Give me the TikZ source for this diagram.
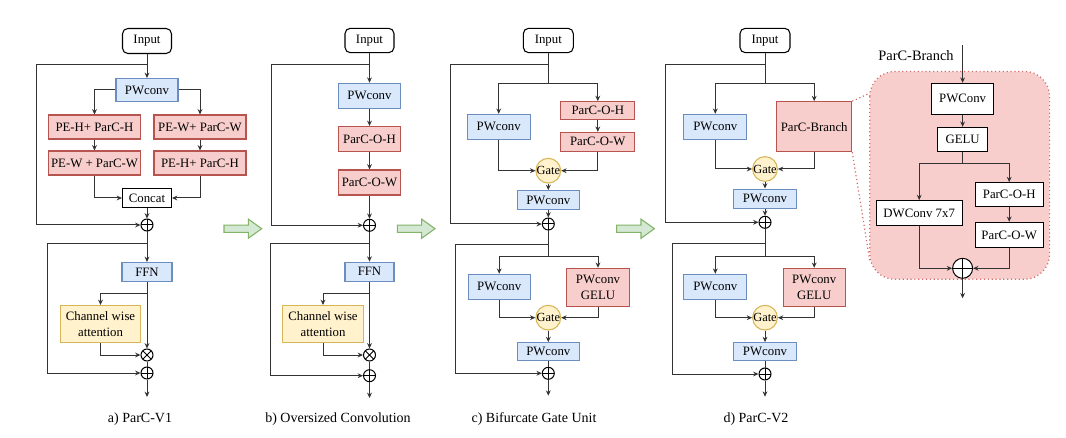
\documentclass[tikz,border=0pt]{standalone}
\usepackage{fontspec}
\setmainfont{Liberation Serif}
\usetikzlibrary{arrows.meta}
\definecolor{bfill}{HTML}{DAE8FC}
\definecolor{bdraw}{HTML}{6C8EBF}
\definecolor{rfill}{HTML}{F8CECC}
\definecolor{rdraw}{HTML}{B85450}
\definecolor{yfill}{HTML}{FFF2CC}
\definecolor{ydraw}{HTML}{D6B656}
\definecolor{gfill}{HTML}{D5E8D4}
\definecolor{gdraw}{HTML}{82B366}
\definecolor{lncol}{HTML}{333333}
\definecolor{dotcol}{HTML}{D46A6A}
\begin{document}
\begin{tikzpicture}[x=0.75pt,y=-0.75pt,
  boxbase/.style={draw, line width=0.8pt, inner sep=1pt, align=center, font=\fontsize{9.6}{11.8}\selectfont},
  bx/.style 2 args={minimum width=#1*0.75pt, minimum height=#2*0.75pt},
  bluebox/.style={boxbase, fill=bfill, draw=bdraw},
  redbox/.style={boxbase, fill=rfill, draw=rdraw},
  yelbox/.style={boxbase, fill=yfill, draw=ydraw},
  whitebox/.style={boxbase, fill=white, draw=black},
  inbox/.style={whitebox, rounded corners=4pt},
  gatenode/.style={circle, fill=yfill, draw=ydraw, line width=0.8pt, inner sep=0pt, minimum size=17pt, font=\fontsize{9.3}{10}\selectfont},
  opl/.style={circle, draw=black, fill=white, line width=0.75pt, inner sep=0pt, minimum size=#1,
     path picture={\draw[line width=0.75pt] (path picture bounding box.north) -- (path picture bounding box.south)
        (path picture bounding box.west) -- (path picture bounding box.east);}},
  opl/.default=9pt,
  otm/.style={circle, draw=black, fill=white, line width=0.75pt, inner sep=0pt, minimum size=9pt,
     path picture={\draw[line width=0.75pt] (path picture bounding box.north east) -- (path picture bounding box.south west)
        (path picture bounding box.north west) -- (path picture bounding box.south east);}},
  conn/.style={draw=lncol, line width=0.75pt},
  arrconn/.style={conn, -{Stealth[length=4pt,width=3.6pt]}},
  dotline/.style={draw=dotcol, line width=0.9pt, dotted},
  captext/.style={font=\fontsize{10.5}{12}\selectfont},
  garr/.pic={\draw[fill=gfill, draw=gdraw, line width=0.8pt] (0,-3.6) -- (24.3,-3.6) -- (24.3,-9.6) -- (37.7,0) -- (24.3,9.6) -- (24.3,3.6) -- (0,3.6) -- cycle;}
]
\useasboundingbox (0,0) rectangle (1066,438);

% ================= Panel a =================
\node[inbox, bx={49}{25}] (aIn) at (147,41) {Input};
\node[bluebox, bx={62}{23}] (aPW) at (147,90) {PWconv};
\node[redbox, bx={92}{24}] (aH1) at (94.5,127) {PE-H+ ParC-H};
\node[redbox, bx={92}{24}] (aW1) at (94.5,163) {PE-W + ParC-W};
\node[redbox, bx={92}{24}] (aW2) at (200,127) {PE-W+ ParC-W};
\node[redbox, bx={92}{24}] (aH2) at (200,163) {PE-H+ ParC-H};
\node[whitebox, bx={49}{19}] (aCat) at (147,198) {Concat};
\node[opl] (aP1) at (147,225) {};
\node[bluebox, bx={50}{19}] (aFFN) at (147,272) {FFN};
\node[yelbox, bx={80}{37}] (aCA) at (100.5,324) {Channel wise\\attention};
\node[otm] (aX) at (147,355) {};
\node[opl] (aP2) at (147,373) {};
\coordinate (aOut) at (147,397);
\coordinate (aL1) at (36,64.3);
\coordinate (aL2) at (47.7,243.7);
\coordinate (aB1) at (147,293.3);

\draw[arrconn] (aIn) -- (aPW);
\draw[arrconn] (aL1 -| aIn) -- (aL1) |- (aP1);
\draw[arrconn] (aPW.west) -| (aH1);
\draw[arrconn] (aPW.east) -| (aW2);
\draw[arrconn] (aH1) -- (aW1);
\draw[arrconn] (aW2) -- (aH2);
\draw[arrconn] (aW1) |- (aCat);
\draw[arrconn] (aH2) |- (aCat);
\draw[arrconn] (aCat) -- (aP1);
\draw[arrconn] (aP1) -- (aFFN);
\draw[arrconn] (aL2 -| aP1) -- (aL2) |- (aP2);
\draw[arrconn] (aFFN) -- (aX);
\draw[arrconn] (aB1) -| (aCA);
\draw[arrconn] (aCA) |- (aX);
\draw[conn] (aX) -- (aP2);
\draw[arrconn] (aP2) -- (aOut);

% ================= Panel b =================
\node[inbox, bx={49}{24.4}] (bIn) at (369.5,40.5) {Input};
\node[bluebox, bx={62}{25}] (bPW) at (369.5,95.8) {PWconv};
\node[redbox, bx={62}{25}] (bH) at (369.5,139) {ParC-O-H};
\node[redbox, bx={62}{25}] (bW) at (369.5,182.5) {ParC-O-W};
\node[opl] (bP1) at (369.5,225.3) {};
\node[bluebox, bx={49}{19}] (bFFN) at (369.5,271.7) {FFN};
\node[yelbox, bx={80.7}{37}] (bCA) at (323,324) {Channel wise\\attention};
\node[otm] (bX) at (369.5,355) {};
\node[opl] (bP2) at (369.5,375.7) {};
\coordinate (bOut) at (369.5,398);
\coordinate (bL1) at (271,64.3);
\coordinate (bL2) at (270.7,243.7);
\coordinate (bB1) at (369.5,293.3);

\draw[arrconn] (bIn) -- (bPW);
\draw[arrconn] (bL1 -| bIn) -- (bL1) |- (bP1);
\draw[arrconn] (bPW) -- (bH);
\draw[arrconn] (bH) -- (bW);
\draw[arrconn] (bW) -- (bP1);
\draw[arrconn] (bP1) -- (bFFN);
\draw[arrconn] (bL2 -| bP1) -- (bL2) |- (bP2);
\draw[arrconn] (bFFN) -- (bX);
\draw[arrconn] (bB1) -| (bCA);
\draw[arrconn] (bCA) |- (bX);
\draw[conn] (bX) -- (bP2);
\draw[arrconn] (bP2) -- (bOut);

% ================= Panel c =================
\node[inbox, bx={50}{24.4}] (cIn) at (548.3,40.5) {Input};
\node[bluebox, bx={62.7}{24.7}] (cPWa) at (498.7,126.7) {PWconv};
\node[redbox, bx={74}{18.3}] (cH) at (597.8,110.8) {ParC-O-H};
\node[redbox, bx={74}{18.7}] (cW) at (597.8,141.7) {ParC-O-W};
\node[gatenode] (cG) at (548.3,170.7) {Gate};
\node[bluebox, bx={62}{18.7}] (cPWb) at (548.3,200) {PWconv};
\node[opl] (cP1) at (548.3,224) {};
\node[bluebox, bx={61.7}{25}] (cPWc) at (499.2,286.8) {PWconv};
\node[redbox, bx={62.7}{37.7}] (cR) at (598,287.2) {PWconv\\GELU};
\node[gatenode] (cG2) at (548.3,317.7) {Gate};
\node[bluebox, bx={61.7}{18.3}] (cPWd) at (548.3,351.8) {PWconv};
\node[opl] (cP2) at (548.3,373.3) {};
\coordinate (cOut) at (548.3,395.7);
\coordinate (cL1) at (450,64.3);
\coordinate (cB1) at (548.3,83.3);
\coordinate (cL2) at (455.7,244.3);
\coordinate (cB2) at (548.3,256);

\draw[conn] (cIn) -- (cB1);
\draw[arrconn] (cL1 -| cIn) -- (cL1) |- (cP1);
\draw[arrconn] (cB1) -| (cPWa);
\draw[arrconn] (cB1) -| (cH);
\draw[arrconn] (cH) -- (cW);
\draw[arrconn] (cPWa) |- (cG);
\draw[arrconn] (cW) |- (cG);
\draw[arrconn] (cG) -- (cPWb);
\draw[arrconn] (cPWb) -- (cP1);
\draw[conn] (cP1) -- (cB2);
\draw[arrconn] (cL2 -| cP1) -- (cL2) |- (cP2);
\draw[arrconn] (cB2) -| (cPWc);
\draw[arrconn] (cB2) -| (cR);
\draw[arrconn] (cPWc) |- (cG2);
\draw[arrconn] (cR) |- (cG2);
\draw[arrconn] (cG2) -- (cPWd);
\draw[conn] (cPWd) -- (cP2);
\draw[arrconn] (cP2) -- (cOut);

% ================= Panel d =================
\node[inbox, bx={50}{24.4}] (dIn) at (765,40.5) {Input};
\node[bluebox, bx={62.7}{24.7}] (dPWa) at (715.3,126.7) {PWconv};
\node[redbox, bx={75}{50}] (dBr) at (814.2,126.7) {ParC-Branch};
\node[gatenode] (dG) at (765,169) {Gate};
\node[bluebox, bx={63.3}{19.3}] (dPWb) at (765,198.7) {PWconv};
\node[opl] (dP1) at (765,222.3) {};
\node[bluebox, bx={62.7}{25}] (dPWc) at (715.3,286.8) {PWconv};
\node[redbox, bx={61.7}{37.7}] (dR) at (814.2,287.2) {PWconv\\GELU};
\node[gatenode] (dG2) at (765,317.7) {Gate};
\node[bluebox, bx={62.7}{18.3}] (dPWd) at (765,351.8) {PWconv};
\node[opl] (dP2) at (765,374) {};
\coordinate (dOut) at (765,396.7);
\coordinate (dL1) at (665.7,64.3);
\coordinate (dB1) at (765,83.3);
\coordinate (dL2) at (672.3,243.3);
\coordinate (dB2) at (765,256);

\draw[conn] (dIn) -- (dB1);
\draw[arrconn] (dL1 -| dIn) -- (dL1) |- (dP1);
\draw[arrconn] (dB1) -| (dPWa);
\draw[arrconn] (dB1) -| (dBr);
\draw[arrconn] (dPWa) |- (dG);
\draw[arrconn] (dBr) |- (dG);
\draw[arrconn] (dG) -- (dPWb);
\draw[arrconn] (dPWb) -- (dP1);
\draw[conn] (dP1) -- (dB2);
\draw[arrconn] (dL2 -| dP1) -- (dL2) |- (dP2);
\draw[arrconn] (dB2) -| (dPWc);
\draw[arrconn] (dB2) -| (dR);
\draw[arrconn] (dPWc) |- (dG2);
\draw[arrconn] (dR) |- (dG2);
\draw[arrconn] (dG2) -- (dPWd);
\draw[conn] (dPWd) -- (dP2);
\draw[arrconn] (dP2) -- (dOut);

% ================= Panel e =================
\node[fill=rfill, draw=none, rounded corners=18.75pt, minimum width=179.3*0.75pt, minimum height=207.3*0.75pt, inner sep=0pt] (eBg) at (959.7,175.35) {};
\draw[dotline, rounded corners=18.75pt] (eBg.north west) rectangle (eBg.south east);
\coordinate (eC1) at (870,93);
\coordinate (eC2) at (870,262);
\draw[dotline] (dBr.north east) -- (eC1);
\draw[dotline] (dBr.south east) -- (eC2);

\node[font=\fontsize{10.8}{12}\selectfont] (eLbl) at (916,55.7) {ParC-Branch};
\coordinate (eTop) at (962.6,45.5);
\node[whitebox, bx={61.7}{30.7}] (eP) at (962.6,98.7) {PWConv};
\node[whitebox, bx={49.7}{23.7}] (eG) at (962.6,139.2) {GELU};
\node[whitebox, bx={68.3}{24}] (eH) at (1009.2,194.7) {ParC-O-H};
\node[whitebox, bx={68.3}{25.3}] (eW) at (1009.2,235) {ParC-O-W};
\node[whitebox, bx={86.3}{25}] (eDW) at (919.2,213.2) {DWConv 7x7};
\node[opl=15pt] (eO) at (962.6,268.3) {};
\coordinate (eOut) at (962.6,298.3);
\coordinate (eB) at (962.6,164);

\draw[arrconn] (eTop) -- (eP);
\draw[arrconn] (eP) -- (eG);
\draw[conn] (eG) -- (eB);
\draw[arrconn] (eB) -| (eDW);
\draw[arrconn] (eB) -| (eH);
\draw[arrconn] (eH) -- (eW);
\draw[arrconn] (eDW) |- (eO);
\draw[arrconn] (eW) |- (eO);
\draw[arrconn] (eO) -- (eOut);

% ================= Green arrows =================
\pic at (224,228.7) {garr};
\pic at (397.3,228.7) {garr};
\pic at (616.7,228.7) {garr};

% ================= Captions =================
\node[captext] (capA) at (140,419) {a) ParC-V1};
\node[captext] (capB) at (338,419) {b) Oversized Convolution};
\node[captext] (capC) at (534,419) {c) Bifurcate Gate Unit};
\node[captext] (capD) at (756,419) {d) ParC-V2};
\end{tikzpicture}
\end{document}
